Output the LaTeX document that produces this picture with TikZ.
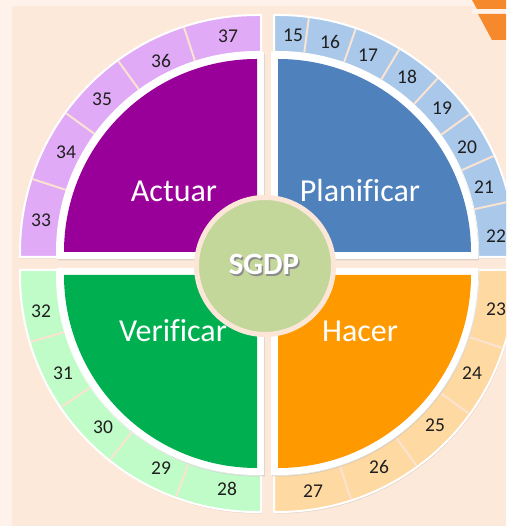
\documentclass[tikz,border=0pt]{standalone}
\usepackage{fontspec}
\setmainfont{Carlito}[Ligatures=NoCommon]
\usetikzlibrary{shadows}
\definecolor{bgpeach}{HTML}{FCE9DA}
\definecolor{bglight}{HTML}{FEF2EA}
\definecolor{accorange}{HTML}{F5892B}
\definecolor{plblue}{HTML}{4F81BD}
\definecolor{plblueL}{HTML}{A9C8EA}
\definecolor{acpurple}{HTML}{990099}
\definecolor{acpurpleL}{HTML}{E0AAF6}
\definecolor{vegreen}{HTML}{00B050}
\definecolor{vegreenL}{HTML}{C0FCC8}
\definecolor{haorange}{HTML}{FF9900}
\definecolor{haorangeL}{HTML}{FFD9A2}
\definecolor{sgdpfill}{HTML}{C4D79B}
\definecolor{divpeach}{HTML}{FBE3D2}
\definecolor{circborder}{HTML}{FBE6D8}
\tikzset{
  myshadow/.style={drop shadow={shadow xshift=0.8pt,shadow yshift=-1.5pt,opacity=0.22}},
  ringcell/.style={draw=white,line width=2pt,line join=round,myshadow},
  wedgebase/.style={fill=white,myshadow},
  divider/.style={draw=divpeach,line width=2pt},
  phase/.style={text=white,font=\fontsize{32}{32}\selectfont,anchor=base,inner sep=0pt},
  cellnum/.style={text=black!88,font=\fontsize{19.5}{20}\selectfont,inner sep=0pt},
}
\begin{document}
\begin{tikzpicture}[x=1pt,y=1pt]
\useasboundingbox (0,0) rectangle (506,526);
\clip (0,0) rectangle (506,526);
\fill[bglight] (0,0) rectangle (506,526);
\fill[bgpeach] (12,0) rectangle (506,520);
% top-right accent
\fill[bglight] (472,512) rectangle (506,517);
\fill[accorange] (472,526) -- (506,526) -- (506,517) -- (477,517) -- cycle;
\fill[accorange] (478,512) -- (506,512) -- (506,486) -- (492,486) -- cycle;

% ---- Planificar (top right)
\path[ringcell,fill=plblueL] (274,511) -- (274,474) -- (278,474) arc[start angle=90,end angle=0,radius=200] -- (478,269) -- (515,269) -- (515,274) arc[start angle=0,end angle=90,radius=237] -- cycle;
\foreach \a in {82.5,70.8,59.1,47.4,35.7,24.0,12.3}
  \draw[divider] (278,274) ++(\a:201) -- ++(\a:35);
\path[wedgebase] (271,267) -- (271,474) -- (278,474) arc[start angle=90,end angle=0,radius=200] -- (478,267) -- cycle;
\fill[plblue] (278,274) -- (278,467) arc[start angle=90,end angle=0,radius=193] -- cycle;

% ---- Actuar (top left)
\path[ringcell,fill=acpurpleL] (261,511) -- (261,474) -- (257,474) arc[start angle=90,end angle=180,radius=200] -- (57,269) -- (20,269) -- (20,274) arc[start angle=180,end angle=90,radius=237] -- cycle;
\foreach \a in {108,126,144,162}
  \draw[divider] (257,274) ++(\a:201) -- ++(\a:35);
\path[wedgebase] (264,267) -- (264,474) -- (257,474) arc[start angle=90,end angle=180,radius=200] -- (57,267) -- cycle;
\fill[acpurple] (257,274) -- (257,467) arc[start angle=90,end angle=180,radius=193] -- cycle;

% ---- Verificar (bottom left)
\path[ringcell,fill=vegreenL] (20,256) -- (57,256) -- (57,251) arc[start angle=180,end angle=270,radius=200] -- (261,51) -- (261,14) -- (257,14) arc[start angle=270,end angle=180,radius=237] -- cycle;
\foreach \a in {196.5,214,231.5,250}
  \draw[divider] (257,251) ++(\a:201) -- ++(\a:35);
\path[wedgebase] (264,258) -- (57,258) -- (57,251) arc[start angle=180,end angle=270,radius=200] -- (264,51) -- cycle;
\fill[vegreen] (257,251) -- (64,251) arc[start angle=180,end angle=270,radius=193] -- cycle;

% ---- Hacer (bottom right)
\path[ringcell,fill=haorangeL] (515,256) -- (478,256) -- (478,251) arc[start angle=0,end angle=-90,radius=200] -- (274,51) -- (274,14) -- (278,14) arc[start angle=-90,end angle=0,radius=237] -- cycle;
\foreach \a in {-18,-36,-54,-72}
  \draw[divider] (278,251) ++(\a:201) -- ++(\a:35);
\path[wedgebase] (271,258) -- (478,258) -- (478,251) arc[start angle=0,end angle=-90,radius=200] -- (271,51) -- cycle;
\fill[haorange] (278,251) -- (471,251) arc[start angle=0,end angle=-90,radius=193] -- cycle;

% ---- phase labels
\node[phase] (planificar) at (360,324) {Planificar};
\node[phase] (actuar) at (174,324) {Actuar};
\node[phase] (verificar) at (173,184) {Verificar};
\node[phase] (hacer) at (360,184) {Hacer};

% ---- centre
\node[circle,fill=sgdpfill,draw=circborder,line width=5pt,minimum size=137pt,inner sep=0pt] (sgdp) at (265,260) {};
\node[text=black!45,font=\bfseries\fontsize{31}{31}\selectfont,anchor=base,inner sep=0pt] (sgdpshadow) at (265.5,249.5) {SGDP};
\node[text=white,font=\bfseries\fontsize{31}{31}\selectfont,anchor=base,inner sep=0pt] (sgdptext) at (264,251) {SGDP};

% ---- numbers
\node[cellnum] (n15) at (293,491) {15};
\node[cellnum] (n16) at (330,484) {16};
\node[cellnum] (n17) at (368,471) {17};
\node[cellnum] (n18) at (407,449) {18};
\node[cellnum] (n19) at (442,418) {19};
\node[cellnum] (n20) at (467,379) {20};
\node[cellnum] (n21) at (484,339) {21};
\node[cellnum] (n22) at (496,290) {22};
\node[cellnum] (n23) at (496,217) {23};
\node[cellnum] (n24) at (472,153) {24};
\node[cellnum] (n25) at (435,101) {25};
\node[cellnum] (n26) at (379,59) {26};
\node[cellnum] (n27) at (313,35) {27};
\node[cellnum] (n28) at (227,37) {28};
\node[cellnum] (n29) at (161,58) {29};
\node[cellnum] (n30) at (103,99) {30};
\node[cellnum] (n31) at (63,153) {31};
\node[cellnum] (n32) at (41,215) {32};
\node[cellnum] (n33) at (41,306) {33};
\node[cellnum] (n34) at (66,374) {34};
\node[cellnum] (n35) at (102,427) {35};
\node[cellnum] (n36) at (161,465) {36};
\node[cellnum] (n37) at (228,490) {37};
\end{tikzpicture}
\end{document}
